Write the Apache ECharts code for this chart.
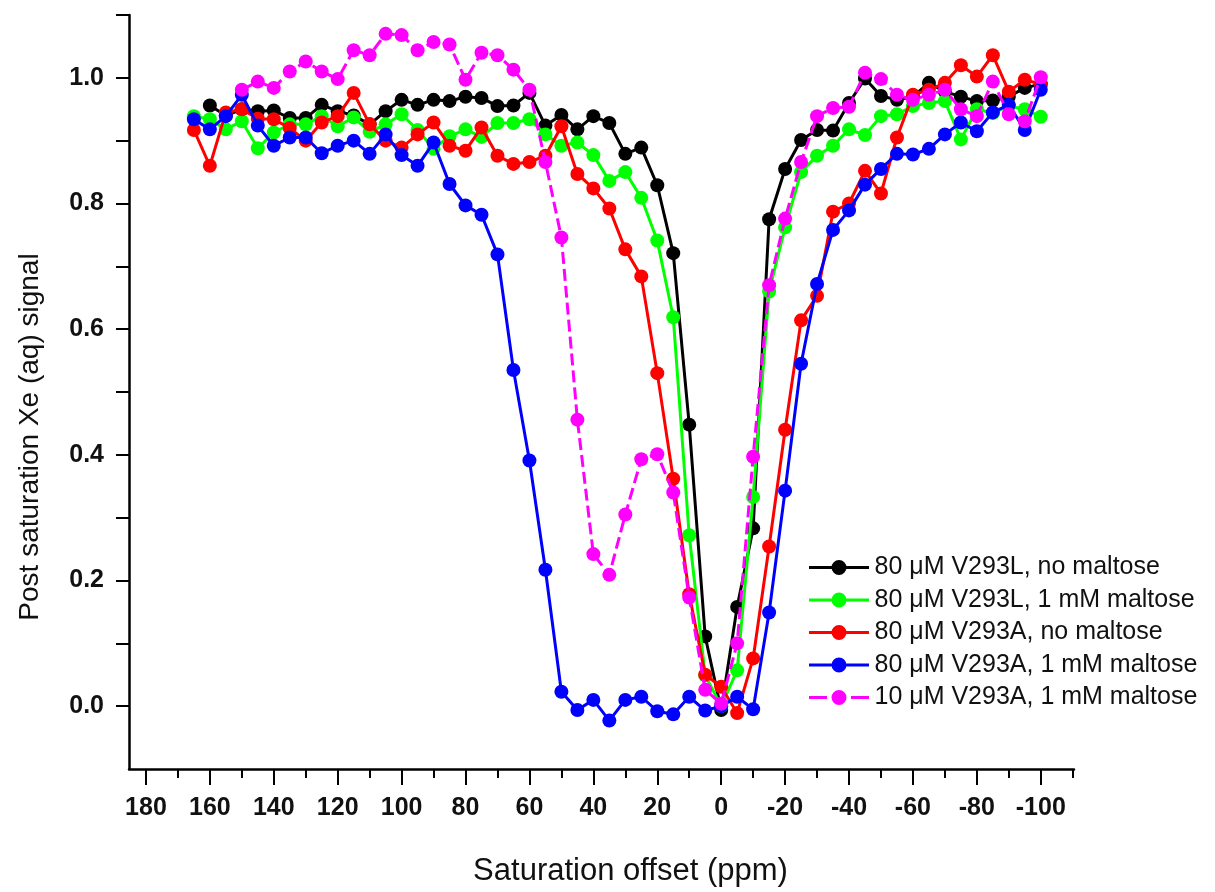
<!DOCTYPE html>
<html>
<head>
<meta charset="utf-8">
<script src="https://cdn.jsdelivr.net/npm/echarts@6/dist/echarts.min.js"></script>
<style>html,body{margin:0;padding:0;background:#fff;}#c{width:1215px;height:892px;}</style>
</head>
<body>
<div id="c"></div>
<script>
const offsets = [165,160,155,150,145,140,135,130,125,120,115,110,105,100,95,90,85,80,75,70,65,60,55,50,45,40,35,30,25,20,15,10,5,0,-5,-10,-15,-20,-25,-30,-35,-40,-45,-50,-55,-60,-65,-70,-75,-80,-85,-90,-95,-100];

const seriesNames = ["80 \u03bcM V293L, no maltose","80 \u03bcM V293L, 1 mM maltose","80 \u03bcM V293A, no maltose","80 \u03bcM V293A, 1 mM maltose","10 \u03bcM V293A, 1 mM maltose"];

const v293lNoMaltose = [null,0.956,0.94,0.95,0.947,0.948,0.936,0.936,0.957,0.947,0.94,0.926,0.947,0.965,0.957,0.965,0.963,0.97,0.968,0.955,0.956,0.976,0.924,0.941,0.918,0.939,0.928,0.879,0.889,0.829,0.721,0.448,0.111,-0.006,0.158,0.283,0.775,0.855,0.901,0.917,0.916,0.96,0.999,0.971,0.965,0.97,0.992,0.978,0.97,0.963,0.964,0.97,0.984,0.99];

const v293lMaltose = [0.939,0.934,0.918,0.931,0.888,0.913,0.926,0.926,0.939,0.923,0.937,0.914,0.926,0.942,0.917,0.887,0.907,0.918,0.906,0.928,0.928,0.934,0.91,0.892,0.897,0.877,0.836,0.85,0.809,0.741,0.619,0.272,0.049,0.0,0.057,0.333,0.66,0.762,0.85,0.876,0.892,0.918,0.909,0.939,0.942,0.955,0.96,0.963,0.902,0.95,0.944,0.955,0.95,0.938];

const v293aNoMaltose = [0.917,0.86,0.945,0.95,0.935,0.934,0.92,0.9,0.929,0.939,0.976,0.926,0.9,0.889,0.91,0.929,0.892,0.884,0.921,0.876,0.863,0.866,0.876,0.923,0.847,0.824,0.792,0.727,0.684,0.53,0.362,0.178,0.05,0.031,-0.011,0.076,0.254,0.44,0.614,0.653,0.787,0.8,0.852,0.816,0.905,0.973,0.981,0.992,1.02,1.002,1.036,0.978,0.997,0.99];

const v293aMaltose = [0.934,0.918,0.939,0.973,0.924,0.892,0.905,0.905,0.88,0.892,0.9,0.879,0.91,0.877,0.86,0.897,0.831,0.797,0.782,0.719,0.535,0.391,0.217,0.023,-0.006,0.01,-0.023,0.01,0.015,-0.008,-0.013,0.015,-0.007,0.0,0.015,-0.005,0.149,0.343,0.545,0.672,0.758,0.789,0.83,0.855,0.879,0.878,0.887,0.91,0.929,0.915,0.945,0.957,0.917,0.981];

const v293a10Maltose = [null,null,null,0.981,0.994,0.984,1.01,1.026,1.01,0.998,1.044,1.036,1.07,1.068,1.044,1.057,1.053,0.997,1.04,1.036,1.013,0.981,0.866,0.746,0.456,0.242,0.209,0.305,0.393,0.401,0.34,0.173,0.026,0.004,0.1,0.397,0.67,0.776,0.866,0.939,0.952,0.954,1.008,0.998,0.973,0.965,0.973,0.981,0.95,0.939,0.994,0.942,0.931,1.001];

const xMajorTicks = [180,160,140,120,100,80,60,40,20,0,-20,-40,-60,-80,-100];
const xMinorTicks = [180,170,160,150,140,130,120,110,100,90,80,70,60,50,40,30,20,10,0,-10,-20,-30,-40,-50,-60,-70,-80,-90,-100,-110];
const yLabelTicks = [0,0.2,0.4,0.6,0.8,1.0];
const yTicks = [0,0.1,0.2,0.3,0.4,0.5,0.6,0.7,0.8,0.9,1.0,1.1];

const colors = ["#000000","#00ff00","#ff0000","#0000ff","#ff00ff"];
const allValues = [v293lNoMaltose, v293lMaltose, v293aNoMaltose, v293aMaltose, v293a10Maltose];

const textFont = "'Liberation Sans',Arial,sans-serif";

const circlePath = "M37.5,7.5 A7.5,7.5 0 1 1 22.5,7.5 A7.5,7.5 0 1 1 37.5,7.5 Z";
const solidIcon = "path://M0,6 L60,6 L60,9 L0,9 Z " + circlePath;
const dashIcon = "path://M0,6 L18,6 L18,9 L0,9 Z M42,6 L60,6 L60,9 L42,9 Z " + circlePath;

const series = allValues.map((vals, k) => ({
  name: seriesNames[k],
  type: 'line',
  xAxisIndex: 0,
  data: offsets.map((x, i) => [x, vals[i]]).filter(p => p[1] !== null),
  symbol: 'circle',
  symbolSize: 14,
  showSymbol: true,
  itemStyle: { color: colors[k], borderWidth: 0 },
  lineStyle: { color: colors[k], width: 3, type: k === 4 ? [12, 5] : 'solid' },
  emphasis: { disabled: true },
  animation: false,
  z: 2 + k
}));

const chart = echarts.init(document.getElementById('c'));
chart.setOption({
  backgroundColor: '#ffffff',
  animation: false,
  grid: { left: 129, right: 141, top: 15, bottom: 116 },
  legend: {
    left: 804, top: 550, orient: 'vertical',
    itemWidth: 61, itemHeight: 15, itemGap: 7.5,
    itemStyle: { borderWidth: 0 },
    textStyle: { fontFamily: textFont, fontSize: 25, color: '#111', lineHeight: 24 },
    data: seriesNames.map((n, k) => ({ name: n, icon: k === 4 ? dashIcon : solidIcon }))
  },
  xAxis: [{
    type: 'value', min: -110.4, max: 185.3, inverse: true, position: 'bottom',
    axisLine: { show: true, onZero: false, lineStyle: { color: '#000', width: 2.5 } },
    axisTick: { show: true, inside: false, length: 16, customValues: xMajorTicks, lineStyle: { color: '#000', width: 2 } },
    axisLabel: { customValues: xMajorTicks, margin: 27, fontFamily: textFont, fontWeight: 'bold', fontSize: 25, color: '#111' },
    splitLine: { show: false },
    name: 'Saturation offset (ppm)', nameLocation: 'middle', nameGap: 87,
    nameTextStyle: { fontFamily: textFont, fontSize: 31, color: '#111', padding: [0, 0, 0, 58] }
  }, {
    type: 'value', min: -110.4, max: 185.3, inverse: true, position: 'bottom',
    axisLine: { show: false, onZero: false },
    axisTick: { show: true, inside: false, length: 9, customValues: xMinorTicks, lineStyle: { color: '#000', width: 2 } },
    axisLabel: { show: false },
    splitLine: { show: false }
  }],
  yAxis: {
    type: 'value', min: -0.1, max: 1.1,
    axisLine: { show: true, onZero: false, lineStyle: { color: '#000', width: 2.5 } },
    axisTick: { show: true, inside: false, length: 13, customValues: yTicks, lineStyle: { color: '#000', width: 2 } },
    axisLabel: { customValues: yLabelTicks, margin: 25, fontFamily: textFont, fontWeight: 'bold', fontSize: 25, color: '#111',
      formatter: v => v.toFixed(1) },
    splitLine: { show: false },
    name: 'Post saturation Xe (aq) signal', nameLocation: 'middle', nameGap: 85,
    nameTextStyle: { fontFamily: textFont, fontSize: 28, color: '#111', padding: [0, 90, 0, 0] }
  },
  series: series
});
</script>
</body>
</html>
